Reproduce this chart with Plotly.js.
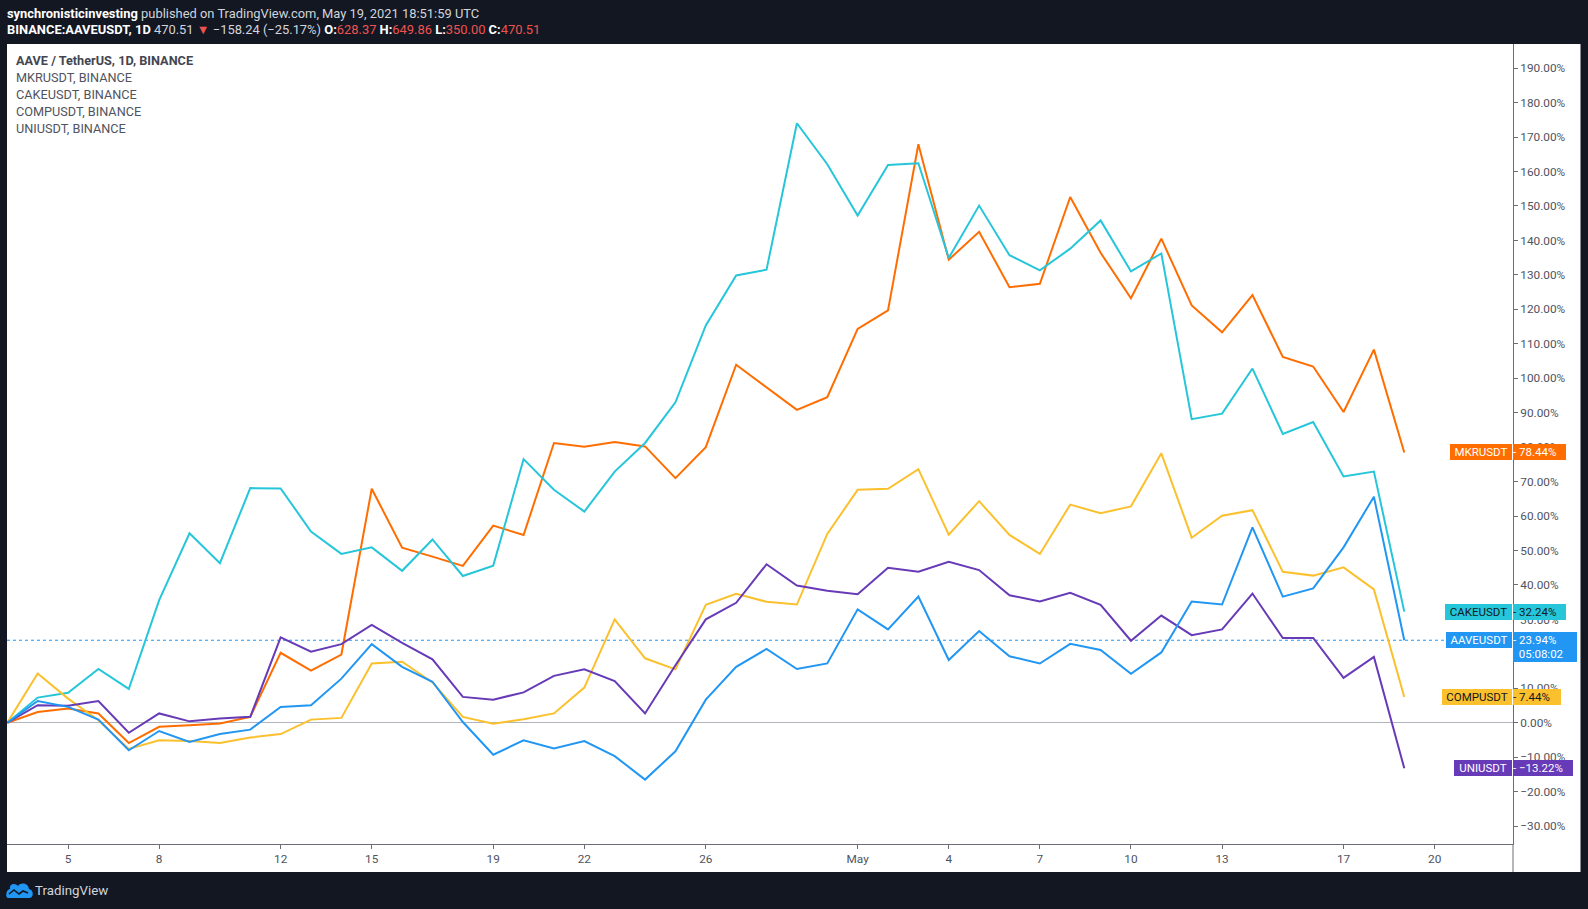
<!DOCTYPE html>
<html>
<head>
<meta charset="utf-8">
<script src="https://cdn.plot.ly/plotly-3.0.1.min.js"></script>
<style>
  html, body { margin: 0; padding: 0; background: #131722; }
  #chart { width: 1588px; height: 909px; }
</style>
</head>
<body>
<div id="chart"></div>
<script>
// ---------------- DATA ----------------
const dates = [
  "2021-04-03","2021-04-04","2021-04-05","2021-04-06","2021-04-07","2021-04-08","2021-04-09","2021-04-10",
  "2021-04-11","2021-04-12","2021-04-13","2021-04-14","2021-04-15","2021-04-16","2021-04-17","2021-04-18",
  "2021-04-19","2021-04-20","2021-04-21","2021-04-22","2021-04-23","2021-04-24","2021-04-25","2021-04-26",
  "2021-04-27","2021-04-28","2021-04-29","2021-04-30","2021-05-01","2021-05-02","2021-05-03","2021-05-04",
  "2021-05-05","2021-05-06","2021-05-07","2021-05-08","2021-05-09","2021-05-10","2021-05-11","2021-05-12",
  "2021-05-13","2021-05-14","2021-05-15","2021-05-16","2021-05-17","2021-05-18","2021-05-19"
];

// percent change from first bar
const aaveusdt = [0, 6.3, 4.6, 0.9, -8.0, -2.4, -5.6, -3.3, -2.0, 4.6, 5.1, 12.8, 22.8,
  16.2, 11.9, 0.2, -9.3, -5.1, -7.5, -5.3, -9.7, -16.5, -8.3, 6.7,
  16.2, 21.4, 15.6, 17.2, 32.9, 27.1, 36.6, 18.2, 26.6, 19.3, 17.2,
  22.9, 21.1, 14.2, 20.4, 35.2, 34.3, 56.7, 36.6, 39.0, 50.9, 65.6, 23.94];

const mkrusdt = [0, 3.1, 4.1, 2.7, -5.9, -1.2, -0.7, -0.2, 1.7, 20.3, 15.1, 19.8, 67.9,
  50.8, 48.2, 45.5, 57.2, 54.5, 81.2, 80.1, 81.5, 80.2, 71.0, 80.0,
  103.9, 97.4, 90.8, 94.5, 114.3, 119.7, 167.9, 134.4, 142.5, 126.4, 127.4,
  152.6, 136.4, 123.2, 140.5, 121.1, 113.3, 124.1, 106.2, 103.4, 90.2, 108.3, 78.44];

const cakeusdt = [0, 7.3, 8.7, 15.6, 9.8, 35.6, 55.0, 46.3, 68.1, 68.0, 55.5, 49.0, 50.9,
  44.1, 53.2, 42.6, 45.6, 76.5, 67.6, 61.3, 72.9, 81.2, 93.0, 115.3,
  129.8, 131.5, 174.0, 162.1, 147.2, 161.9, 162.4, 134.9, 150.1, 135.7, 131.3,
  137.6, 145.8, 131.0, 136.2, 88.1, 89.7, 102.8, 83.8, 87.3, 71.5, 72.9, 32.24];

const compusdt = [0, 14.3, 7.0, 0.7, -7.6, -5.1, -5.3, -5.9, -4.3, -3.3, 0.9, 1.4, 17.2,
  17.7, 11.7, 1.7, -0.3, 1.0, 2.7, 10.2, 30.0, 18.7, 15.5, 34.2,
  37.4, 35.1, 34.3, 54.8, 67.6, 67.9, 73.6, 54.6, 64.3, 54.5, 49.0,
  63.3, 60.8, 62.8, 78.2, 53.7, 60.1, 61.7, 43.8, 42.7, 45.1, 38.7, 7.44];

const uniusdt = [0, 5.1, 4.9, 6.3, -2.9, 2.7, 0.4, 1.2, 1.7, 24.8, 20.6, 22.8, 28.4,
  23.2, 18.4, 7.5, 6.7, 8.8, 13.6, 15.5, 12.1, 2.7, 16.7, 30.0,
  34.8, 46.0, 39.8, 38.3, 37.3, 45.0, 43.8, 46.7, 44.3, 37.0, 35.2,
  37.7, 34.2, 23.8, 31.1, 25.4, 27.1, 37.5, 24.6, 24.6, 13.0, 19.1, -13.22];

const seriesNames = ["MKRUSDT", "CAKEUSDT", "COMPUSDT", "UNIUSDT", "AAVEUSDT"];
const seriesColors = ["#ff6d00", "#26c6da", "#fbc02d", "#673ab7", "#2196f3"];
const seriesTextColors = ["#ffffff", "#131722", "#131722", "#ffffff", "#ffffff"];
const seriesValues = [mkrusdt, cakeusdt, compusdt, uniusdt, aaveusdt];

const tickDates = ["2021-04-05","2021-04-08","2021-04-12","2021-04-15","2021-04-19","2021-04-22","2021-04-26",
                   "2021-05-01","2021-05-04","2021-05-07","2021-05-10","2021-05-13","2021-05-17","2021-05-20"];
const tickLabels = ["5","8","12","15","19","22","26","May","4","7","10","13","17","20"];

const legendLines = ["AAVE / TetherUS, 1D, BINANCE", "MKRUSDT, BINANCE", "CAKEUSDT, BINANCE", "COMPUSDT, BINANCE", "UNIUSDT, BINANCE"];
const publisher = "synchronisticinvesting";
const publishedText = "published on TradingView.com, May 19, 2021 18:51:59 UTC";
const symbolText = "BINANCE:AAVEUSDT, 1D";
const lastPrice = "470.51";
const change = "\u2212158.24 (\u221225.17%)";
const ohlcKeys = ["O:", "H:", "L:", "C:"];
const ohlcVals = ["628.37", "649.86", "350.00", "470.51"];
const countdown = "05:08:02";

// ---------------- LAYOUT HELPERS ----------------
const W = 1588, H = 909;
const PL = 7, PR = 1513, PT = 44, PB = 844;
const px = v => (v - PL) / (PR - PL);
const py = v => (PB - v) / (PB - PT);
const FONT = "Roboto, 'Liberation Sans', Arial, sans-serif";
const DARK = "#131722";
const AXIS = "#6a6d78";
const TICKTXT = "#50535e";

// ---------------- TRACES ----------------
const traces = seriesNames.map((n, k) => ({
  type: "scatter", mode: "lines", name: n,
  x: dates, y: seriesValues[k],
  line: { color: seriesColors[k], width: 2 },
  hoverinfo: "skip"
}));

// ---------------- ANNOTATIONS ----------------
const ann = [];
// header
ann.push({ xref: "paper", yref: "paper", x: px(5), y: py(13.5), xanchor: "left", yanchor: "middle",
  showarrow: false, font: { family: FONT, size: 12.9, color: "#d1d4dc" },
  text: "<b style='color:#ffffff'>" + publisher + "</b> " + publishedText });
let l2 = "<b style='color:#ffffff'>" + symbolText + "</b> <span style='color:#d1d4dc'>" + lastPrice +
  "</span> <span style='color:#ef5350'>\u25BC</span> <span style='color:#d1d4dc'>" + change + "</span>";
ohlcKeys.forEach((k, i) => { l2 += " <b style='color:#ffffff'>" + k + "</b><span style='color:#ef5350'>" + ohlcVals[i] + "</span>"; });
ann.push({ xref: "paper", yref: "paper", x: px(5), y: py(30), xanchor: "left", yanchor: "middle",
  showarrow: false, font: { family: FONT, size: 12.9, color: "#d1d4dc" }, text: l2 });

// legend lines in the pane
const legY = [61, 78, 95, 112, 128.5];
legendLines.forEach((t, i) => {
  ann.push({ xref: "paper", yref: "paper", x: px(14), y: py(legY[i]), xanchor: "left", yanchor: "middle",
    showarrow: false, font: { family: FONT, size: 12.7, color: i === 0 ? "#434651" : "#50535e" },
    text: i === 0 ? "<b>" + t + "</b>" : t });
});

// price labels on the right axis
const nameW = [62, 67, 70, 58, 66];
const valW = [53, 53, 48, 60, 64];
seriesNames.forEach((n, k) => {
  const v = seriesValues[k][seriesValues[k].length - 1];
  const isMain = (n === "AAVEUSDT");
  const vStr = (v < 0 ? "\u2212" : "") + Math.abs(v).toFixed(2) + "%";
  ann.push({ xref: "paper", yref: "y", x: px(1511.7), y: v, xanchor: "right", yanchor: "middle",
    showarrow: false, width: nameW[k], height: 16, borderpad: 0, borderwidth: 0,
    bgcolor: seriesColors[k], align: "center",
    font: { family: FONT, size: 11.5, color: seriesTextColors[k] }, text: n });
  ann.push({ xref: "paper", yref: "y", x: px(1512.7), y: v, xanchor: "left",
    yanchor: isMain ? "top" : "middle", yshift: isMain ? 8.5 : 0,
    showarrow: false, width: valW[k], height: isMain ? 30 : 16, borderpad: 0, borderwidth: 0,
    bgcolor: seriesColors[k], align: "left",
    font: { family: FONT, size: 11.5, color: seriesTextColors[k] },
    text: isMain ? "- " + vStr + "<br>  " + countdown : "- " + vStr });
});

// footer text
ann.push({ xref: "paper", yref: "paper", x: px(33), y: py(890), xanchor: "left", yanchor: "middle",
  showarrow: false, font: { family: FONT, size: 13.3, color: "#d1d4dc" }, text: "TradingView" });

// ---------------- SHAPES ----------------
const shapes = [
  // dark frame
  { type: "rect", xref: "paper", yref: "paper", x0: px(0), x1: px(W), y0: py(0), y1: py(PT), fillcolor: DARK, line: { width: 0 }, layer: "above" },
  { type: "rect", xref: "paper", yref: "paper", x0: px(0), x1: px(W), y0: py(872), y1: py(H), fillcolor: DARK, line: { width: 0 }, layer: "above" },
  { type: "rect", xref: "paper", yref: "paper", x0: px(0), x1: px(PL), y0: py(0), y1: py(H), fillcolor: DARK, line: { width: 0 }, layer: "above" },
  { type: "rect", xref: "paper", yref: "paper", x0: px(1580.5), x1: px(W), y0: py(0), y1: py(H), fillcolor: DARK, line: { width: 0 }, layer: "above" },
  // right axis line extension through the time scale
  { type: "line", xref: "paper", yref: "paper", x0: 1, x1: 1, y0: py(PB), y1: py(872), line: { color: AXIS, width: 1 } },
  // last price dotted line of main series
  { type: "line", xref: "paper", yref: "y", x0: 0, x1: 1, y0: aaveusdt[aaveusdt.length - 1], y1: aaveusdt[aaveusdt.length - 1],
    line: { color: "#2196f3", width: 1, dash: "dot" }, layer: "below" },
  // TradingView logo (cloud)
  { type: "path", xref: "paper", yref: "paper", xsizemode: "pixel", ysizemode: "pixel",
    xanchor: px(6), yanchor: py(898),
    path: "M 2 0 L 23 0 C 28 0 28 8 23 9 C 22 15 15 16 12 12 C 10 15 3 15 4 9 C 0 9 -1 0 2 0 Z",
    fillcolor: "#2196f3", line: { width: 0 }, layer: "above" },
  { type: "path", xref: "paper", yref: "paper", xsizemode: "pixel", ysizemode: "pixel",
    xanchor: px(6), yanchor: py(898),
    path: "M 3 4 L 8 8 L 13 4 L 17 7 L 22 5",
    line: { color: DARK, width: 1.6 }, layer: "above" }
];

// ---------------- LAYOUT ----------------
const layout = {
  width: W, height: H,
  margin: { l: PL, r: W - PR, t: PT, b: H - PB, pad: 0 },
  paper_bgcolor: "#ffffff", plot_bgcolor: "#ffffff",
  showlegend: false,
  hovermode: false,
  xaxis: {
    type: "date",
    range: ["2021-04-02 23:45", "2021-05-22 13:55"],
    tickmode: "array", tickvals: tickDates, ticktext: tickLabels,
    showgrid: false, zeroline: false,
    showline: true, linecolor: AXIS, linewidth: 1,
    ticks: "outside", ticklen: 4, tickcolor: AXIS,
    tickfont: { family: FONT, size: 11.8, color: TICKTXT },
    fixedrange: true
  },
  yaxis: {
    side: "right",
    range: [-35.2, 197.0],
    tick0: 0, dtick: 10, tickformat: ".2f", ticksuffix: "%",
    showgrid: false,
    zeroline: true, zerolinecolor: "#b2b5be", zerolinewidth: 1,
    showline: true, linecolor: AXIS, linewidth: 1,
    ticks: "outside", ticklen: 4, tickcolor: AXIS,
    tickfont: { family: FONT, size: 11.8, color: TICKTXT },
    fixedrange: true
  },
  annotations: ann,
  shapes: shapes
};

Plotly.newPlot("chart", traces, layout, { displayModeBar: false, staticPlot: true });
</script>
</body>
</html>
